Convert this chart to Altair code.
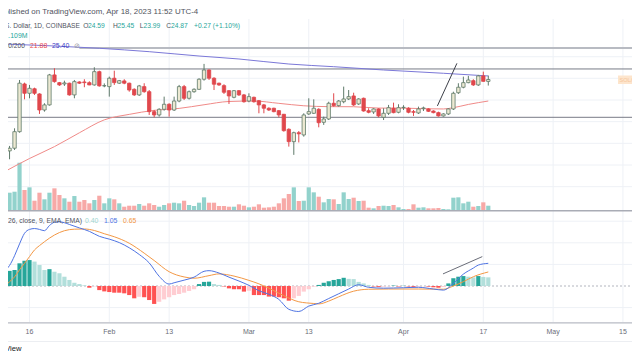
import math
import altair as alt
import pandas as pd

# ------------------------------------------------------------------ data
first_day = "2023-01-11"

opens = [
    16.23, 16.26, 16.52, 18.23, 24.22, 22.91, 23.54, 22.82, 20.74, 21.38,
    25.56, 24.41, 24.22, 24.33, 22.69, 24.51, 24.51, 24.41, 24.08, 26.06,
    23.94, 23.84, 25.06, 24.33, 24.66, 24.33, 23.46, 22.69, 23.84, 23.13,
    20.54, 20.14, 20.83, 21.46, 20.74, 21.88, 23.84, 22.24, 23.13, 23.46,
    24.91, 26.32, 25.06, 24.33, 23.98, 23.27, 22.37, 23.27, 22.69, 21.88,
    22.37, 21.92, 21.38, 20.96, 20.96, 20.66, 20.22, 18.49, 17.18, 18.12,
    17.88, 20.26, 20.34, 20.83, 19.28, 19.66, 21.59, 21.29, 21.79, 22.15,
    22.55, 21.50, 22.24, 20.66, 20.50, 20.87, 19.86, 20.34, 20.96, 20.46,
    21.03, 20.96, 20.54, 20.38, 20.91, 20.87, 20.62, 20.42, 20.02, 20.26,
    20.87, 22.99, 23.75, 24.41, 24.70, 24.08, 25.41, 24.59,
]
highs = [
    16.52, 16.75, 18.60, 24.80, 24.41, 24.08, 23.69, 22.91, 21.59, 25.71,
    26.59, 24.51, 24.70, 24.41, 24.80, 24.61, 24.91, 24.61, 26.75, 26.21,
    24.30, 25.30, 26.21, 24.80, 24.91, 24.41, 23.60, 24.08, 24.32, 23.36,
    20.74, 20.96, 22.46, 21.59, 22.46, 24.08, 24.08, 23.29, 23.60, 25.06,
    27.29, 26.43, 25.21, 24.41, 24.18, 23.36, 23.36, 23.36, 22.82, 22.91,
    22.46, 22.01, 21.50, 21.08, 21.03, 20.74, 20.26, 18.60, 18.23, 18.30,
    20.34, 22.24, 22.10, 20.96, 19.94, 21.79, 22.91, 22.01, 23.84, 23.36,
    22.99, 22.24, 22.33, 20.96, 20.96, 20.96, 20.96, 21.38, 21.67, 21.46,
    21.34, 21.08, 20.74, 21.16, 21.16, 20.96, 20.70, 20.54, 20.34, 20.96,
    23.13, 24.32, 25.30, 25.41, 24.91, 25.56, 26.06, 25.45,
]
lows = [
    16.09, 15.47, 16.35, 18.12, 22.10, 22.24, 22.69, 20.26, 20.54, 21.29,
    24.41, 23.94, 23.94, 22.59, 22.24, 24.22, 23.75, 24.04, 23.98, 23.84,
    23.75, 22.46, 24.08, 24.22, 24.18, 23.13, 22.55, 22.55, 22.99, 20.14,
    19.86, 19.94, 20.66, 19.94, 20.62, 21.72, 22.01, 22.07, 22.99, 23.36,
    24.70, 24.80, 23.36, 23.94, 22.82, 21.50, 22.24, 22.55, 21.67, 21.72,
    21.67, 20.34, 20.34, 20.62, 20.46, 19.86, 18.23, 16.68, 15.88, 17.10,
    17.70, 20.14, 20.26, 18.71, 18.98, 19.54, 21.16, 21.16, 21.59, 22.01,
    21.25, 21.38, 20.54, 20.34, 20.26, 19.86, 19.54, 20.14, 20.34, 20.34,
    20.74, 20.34, 20.02, 20.26, 20.62, 20.50, 20.34, 19.94, 19.94, 20.14,
    20.74, 22.82, 23.60, 24.32, 23.94, 23.94, 24.56, 23.99,
]
closes = [
    16.35, 16.52, 18.23, 24.33, 22.91, 23.60, 22.91, 20.74, 21.38, 25.56,
    24.56, 24.08, 24.37, 22.69, 24.56, 24.33, 24.41, 24.08, 26.06, 23.94,
    23.98, 25.06, 24.41, 24.70, 24.33, 23.36, 22.69, 23.94, 23.13, 20.54,
    20.14, 20.83, 21.46, 20.74, 21.88, 23.84, 22.24, 23.13, 23.46, 24.91,
    26.32, 25.06, 24.18, 24.08, 23.05, 22.55, 23.27, 22.69, 21.79, 22.46,
    21.79, 21.38, 20.96, 20.74, 20.54, 20.14, 18.34, 17.18, 18.12, 18.00,
    20.14, 20.54, 20.96, 19.23, 19.66, 21.59, 21.29, 21.88, 22.15, 22.46,
    21.38, 22.15, 20.62, 20.46, 20.87, 20.02, 20.34, 21.03, 20.42, 21.03,
    21.08, 20.46, 20.46, 20.87, 21.00, 20.58, 20.42, 20.02, 20.26, 20.87,
    22.91, 23.75, 24.41, 24.80, 24.08, 25.41, 24.60, 24.87,
]
volume_m = [
    3.86, 4.00, 4.22, 10.66, 4.60, 5.19, 2.22, 4.00, 2.53, 4.00,
    4.97, 3.49, 2.75, 2.00, 3.26, 2.00, 2.38, 1.64, 2.38, 3.33,
    1.64, 2.75, 2.53, 1.64, 0.89, 1.11, 1.11, 1.49, 1.11, 1.64,
    1.27, 0.89, 1.27, 1.64, 1.78, 1.64, 2.22, 1.27, 1.04, 1.78,
    2.97, 1.78, 1.78, 1.04, 1.04, 0.89, 0.89, 1.42, 1.11, 0.75,
    0.89, 1.42, 0.67, 0.75, 0.89, 1.64, 2.75, 3.71, 5.19, 2.15,
    2.22, 5.19, 4.08, 3.11, 1.86, 2.60, 2.53, 1.49, 4.08, 2.60,
    2.89, 2.15, 2.22, 0.67, 0.53, 1.04, 1.11, 1.04, 1.27, 0.75,
    0.38, 0.38, 1.42, 0.67, 0.75, 0.53, 0.53, 0.60, 0.38, 0.31,
    2.89, 2.97, 1.64, 2.00, 0.89, 1.04, 1.86, 1.109,
]
macd_hist = [
    0.66, 0.70, 0.74, 1.05, 1.17, 1.20, 1.13, 0.97, 0.74, 0.78,
    0.66, 0.59, 0.43, 0.28, 0.15, 0.09, 0.03, -0.08, -0.02, -0.19,
    -0.25, -0.28, -0.31, -0.31, -0.34, -0.42, -0.57, -0.50, -0.52, -0.65,
    -0.83, -0.73, -0.62, -0.52, -0.42, -0.37, -0.31, -0.23, -0.15, 0.09,
    0.19, 0.20, 0.09, 0.05, -0.02, -0.11, -0.15, -0.15, -0.26, -0.22,
    -0.42, -0.42, -0.42, -0.49, -0.49, -0.52, -0.57, -0.68, -0.57, -0.46,
    -0.26, -0.15, -0.03, 0.05, 0.15, 0.22, 0.28, 0.32, 0.38, 0.33,
    0.32, 0.19, 0.12, 0.05, -0.02, -0.04, -0.03, -0.02, 0.02, -0.02,
    0.01, -0.02, -0.04, -0.03, -0.01, -0.03, -0.06, -0.08, -0.05, 0.12,
    0.36, 0.43, 0.46, 0.43, 0.40, 0.46, 0.42, 0.40,
]

sma50_dates = ["2023-01-11", "2023-01-16", "2023-01-21", "2023-01-26", "2023-01-31",
               "2023-02-05", "2023-02-10", "2023-02-15", "2023-02-20", "2023-02-25",
               "2023-03-02", "2023-03-07", "2023-03-12", "2023-03-17", "2023-03-22",
               "2023-03-27", "2023-04-01", "2023-04-06", "2023-04-09", "2023-04-11",
               "2023-04-14", "2023-04-18"]
sma50_vals = [14.37, 15.54, 16.68, 18.11, 19.56, 20.21, 20.70, 20.94, 21.40, 21.82,
              21.88, 21.58, 21.27, 21.16, 21.15, 20.98, 20.97, 20.89, 20.87, 21.03,
              21.44, 21.88]
sma200_dates = ["2023-01-11", "2023-01-30", "2023-02-09", "2023-02-19", "2023-02-27",
                "2023-03-09", "2023-03-18", "2023-03-28", "2023-04-09", "2023-04-18"]
sma200_vals = [30.72, 29.95, 29.35, 28.60, 28.10, 27.27, 26.84, 26.32, 25.81, 25.40]

macd_dates = ["2023-01-11", "2023-01-12", "2023-01-13", "2023-01-14", "2023-01-15",
              "2023-01-16", "2023-01-17", "2023-01-18", "2023-01-19", "2023-01-20",
              "2023-01-21", "2023-01-22", "2023-01-23", "2023-01-24", "2023-01-26",
              "2023-01-28", "2023-01-30", "2023-02-01", "2023-02-03", "2023-02-05",
              "2023-02-07", "2023-02-09", "2023-02-11", "2023-02-13", "2023-02-14",
              "2023-02-16", "2023-02-18", "2023-02-20", "2023-02-21", "2023-02-23",
              "2023-02-25", "2023-02-27", "2023-03-01", "2023-03-03", "2023-03-05",
              "2023-03-07", "2023-03-09", "2023-03-11", "2023-03-13", "2023-03-15",
              "2023-03-17", "2023-03-19", "2023-03-21", "2023-03-23", "2023-03-25",
              "2023-03-28", "2023-04-01", "2023-04-04", "2023-04-07", "2023-04-09",
              "2023-04-11", "2023-04-13", "2023-04-15", "2023-04-16", "2023-04-18"]
macd_vals = [0.70, 0.95, 1.40, 1.95, 2.44, 2.62, 2.66, 2.62, 2.56, 2.80,
             2.95, 2.97, 2.93, 2.85, 2.69, 2.53, 2.30, 2.17, 2.01, 1.77,
             1.46, 1.07, 0.45, 0.09, 0.15, 0.27, 0.41, 0.68, 0.71, 0.60,
             0.41, 0.23, 0.03, -0.22, -0.38, -0.62, -1.08, -1.18, -0.93, -0.80,
             -0.58, -0.36, -0.14, 0.06, -0.06, -0.10, -0.08, -0.06, -0.14, -0.19,
             0.12, 0.55, 0.83, 0.97, 1.05]
signal_dates = ["2023-01-11", "2023-01-12", "2023-01-13", "2023-01-14", "2023-01-15",
                "2023-01-16", "2023-01-17", "2023-01-18", "2023-01-19", "2023-01-21",
                "2023-01-23", "2023-01-25", "2023-01-27", "2023-01-29", "2023-01-31",
                "2023-02-02", "2023-02-05", "2023-02-08", "2023-02-10", "2023-02-13",
                "2023-02-16", "2023-02-18", "2023-02-21", "2023-02-23", "2023-02-26",
                "2023-03-01", "2023-03-03", "2023-03-05", "2023-03-08", "2023-03-11",
                "2023-03-14", "2023-03-15", "2023-03-17", "2023-03-19", "2023-03-22",
                "2023-03-25", "2023-03-29", "2023-04-04", "2023-04-09", "2023-04-11",
                "2023-04-13", "2023-04-15", "2023-04-18"]
signal_vals = [-0.03, 0.20, 0.42, 0.75, 1.05, 1.36, 1.67, 1.87, 2.05, 2.36,
               2.56, 2.63, 2.64, 2.57, 2.42, 2.28, 1.98, 1.52, 1.18, 0.66,
               0.42, 0.36, 0.48, 0.56, 0.46, 0.26, 0.10, -0.10, -0.45, -0.73,
               -0.81, -0.83, -0.70, -0.50, -0.24, -0.15, -0.14, -0.14, -0.15, 0.00,
               0.20, 0.43, 0.65]

ray_levels = [26.48, 19.86]
ray_top_start = ["2023-01-26"]
ray_top_level = [30.0]
trend_price_dates = ["2023-04-07 19:00", "2023-04-11 17:00"]
trend_price_vals = [21.25, 27.38]
trend_macd_dates = ["2023-04-08 22:00", "2023-04-16 19:00"]
trend_macd_vals = [0.56, 1.36]

tick_dates = ["2023-01-16", "2023-02-01", "2023-02-13", "2023-03-01", "2023-03-13",
              "2023-04-01", "2023-04-17", "2023-05-01", "2023-05-15"]
tick_labels = ["16", "Feb", "13", "Mar", "13", "Apr", "17", "May", "15"]
price_grid = [28.48, 25.05, 22.01, 19.35, 17.01, 14.95, 13.14]
macd_grid = [3, 2, 1, -1]

# ------------------------------------------------------------------ helpers
def ms(values):
    return [int(v) for v in (pd.to_datetime(values).astype("int64") // 10**6)]

W, H = 632, 352
DAY = 86400000
ANCHOR = ms(["2023-01-16"])[0]
ANCHOR_PX, PX_PER_DAY = 24.9, 5.067
x_dom = [ANCHOR - ANCHOR_PX / PX_PER_DAY * DAY, ANCHOR + (W - ANCHOR_PX) / PX_PER_DAY * DAY]
XS = alt.Scale(domain=x_dom, range=[0, W])

def X(field="t"):
    return alt.X(f"{field}:T", scale=XS, axis=None)

# price pane, log scale
PA, PK = 619.4, 168.0
PS = alt.Scale(type="log", domain=[10, 40], range=[PA - PK * math.log(10), PA - PK * math.log(40)])
# volume
VB, VPX = 210.7, 4.5
VS = alt.Scale(domain=[0, 10], range=[VB, VB - 10 * VPX])
# macd
MZ, MPX = 286.0, 21.6
MS = alt.Scale(domain=[-1.5, 3.5], range=[MZ + 1.5 * MPX, MZ - 3.5 * MPX])

FONT = "Liberation Sans"
UP_FILL, UP_EDGE, DOWN = "#ece9d2", "#5f7a6a", "#e0474c"
TEAL, TEXT_DARK = "#26a69a", "#50535e"

df = pd.DataFrame({
    "t": ms(pd.date_range(first_day, periods=len(opens), freq="D")),
    "open": opens, "high": highs, "low": lows, "close": closes,
    "vol": volume_m, "hist": macd_hist,
})
up = df["close"] >= df["open"]
df["fill"] = up.map({True: UP_FILL, False: DOWN})
df["edge"] = up.map({True: UP_EDGE, False: DOWN})
df["vcol"] = up.map({True: "#92d2cc", False: "#f7a9a7"})
prev = df["hist"].shift(1).fillna(0)
df["hcol"] = [
    ("#26a69a" if p < h else "#b2dfdb") if h >= 0 else ("#ffcdd2" if p < h else "#ff5252")
    for h, p in zip(df["hist"], prev)
]

def txt(s, x, y, color, size=6.8, align="left", weight="normal"):
    return alt.Chart(pd.DataFrame({"s": [s]})).mark_text(
        align=align, baseline="middle", font=FONT, fontSize=size, color=color, fontWeight=weight
    ).encode(x=alt.value(x), y=alt.value(y), text="s:N")

def hline(y, color, width=1.0, x0=0, x1=W):
    return alt.Chart(pd.DataFrame({"a": [0]})).mark_rule(color=color, strokeWidth=width).encode(
        x=alt.value(x0), x2=alt.value(x1), y=alt.value(y))

layers = []
# grids
layers.append(alt.Chart(pd.DataFrame({"t": ms(tick_dates)})).mark_rule(color="#eef1f6").encode(
    x=X(), y=alt.value(19), y2=alt.value(322)))
layers.append(alt.Chart(pd.DataFrame({"p": price_grid})).mark_rule(color="#eef1f6").encode(
    y=alt.Y("p:Q", scale=PS, axis=None), x=alt.value(0), x2=alt.value(W)))
layers.append(alt.Chart(pd.DataFrame({"m": macd_grid})).mark_rule(color="#eef1f6").encode(
    y=alt.Y("m:Q", scale=MS, axis=None), x=alt.value(0), x2=alt.value(W)))
layers.append(alt.Chart(pd.DataFrame({"m": [0]})).mark_rule(color="#b2b5be", strokeDash=[2, 2]).encode(
    y=alt.Y("m:Q", scale=MS, axis=None), x=alt.value(0), x2=alt.value(W)))

# volume
layers.append(alt.Chart(df).mark_bar(size=4.2).encode(
    x=X(), y=alt.Y("vol:Q", scale=VS, axis=None), color=alt.Color("vcol:N", scale=None)))

# horizontal rays
layers.append(alt.Chart(pd.DataFrame({"p": ray_levels})).mark_rule(color="#787b86", strokeWidth=1).encode(
    y=alt.Y("p:Q", scale=PS, axis=None), x=alt.value(0), x2=alt.value(W)))
layers.append(alt.Chart(pd.DataFrame({"t": ms(ray_top_start), "p": ray_top_level})).mark_rule(
    color="#b8bbc2", strokeWidth=2).encode(x=X(), x2=alt.value(W), y=alt.Y("p:Q", scale=PS, axis=None)))

# moving averages
layers.append(alt.Chart(pd.DataFrame({"t": ms(sma50_dates), "v": sma50_vals})).mark_line(
    color="#f08a88", strokeWidth=1, interpolate="monotone").encode(x=X(), y=alt.Y("v:Q", scale=PS, axis=None)))
layers.append(alt.Chart(pd.DataFrame({"t": ms(sma200_dates), "v": sma200_vals})).mark_line(
    color="#7b78d8", strokeWidth=1, interpolate="monotone").encode(x=X(), y=alt.Y("v:Q", scale=PS, axis=None)))

# candles
layers.append(alt.Chart(df).mark_rule(strokeWidth=1).encode(
    x=X(), y=alt.Y("low:Q", scale=PS, axis=None), y2="high:Q", color=alt.Color("edge:N", scale=None)))
layers.append(alt.Chart(df).mark_bar(size=3.4, strokeWidth=0.8).encode(
    x=X(), y=alt.Y("open:Q", scale=PS, axis=None), y2="close:Q",
    fill=alt.Fill("fill:N", scale=None), stroke=alt.Stroke("edge:N", scale=None)))

# trend line on price
layers.append(alt.Chart(pd.DataFrame({"t": ms(trend_price_dates), "v": trend_price_vals})).mark_line(
    color="#3c3f48", strokeWidth=1).encode(x=X(), y=alt.Y("v:Q", scale=PS, axis=None)))

# MACD pane
layers.append(alt.Chart(df).mark_bar(size=4.2).encode(
    x=X(), y=alt.Y("hist:Q", scale=MS, axis=None), color=alt.Color("hcol:N", scale=None)))
layers.append(alt.Chart(pd.DataFrame({"t": ms(signal_dates), "v": signal_vals})).mark_line(
    color="#f39845", strokeWidth=1, interpolate="monotone").encode(x=X(), y=alt.Y("v:Q", scale=MS, axis=None)))
layers.append(alt.Chart(pd.DataFrame({"t": ms(macd_dates), "v": macd_vals})).mark_line(
    color="#4f74e3", strokeWidth=1, interpolate="monotone").encode(x=X(), y=alt.Y("v:Q", scale=MS, axis=None)))
layers.append(alt.Chart(pd.DataFrame({"t": ms(trend_macd_dates), "v": trend_macd_vals})).mark_line(
    color="#6a6d78", strokeWidth=1).encode(x=X(), y=alt.Y("v:Q", scale=MS, axis=None)))

# separators and axis
layers.append(hline(210.8, "#a9acb5", 1.6))
layers.append(hline(322.8, "#b8bbc4", 1.2))
layers.append(hline(341.5, "#eceef2", 1))
layers.append(alt.Chart(pd.DataFrame({"t": ms(tick_dates), "s": tick_labels})).mark_text(
    font=FONT, fontSize=7, color="#6a6d78", baseline="middle").encode(x=X(), y=alt.value(332), text="s:N"))

# last-price symbol label
layers.append(alt.Chart(pd.DataFrame({"a": [0]})).mark_rect(color="#fde5cd").encode(
    x=alt.value(618), x2=alt.value(W), y=alt.value(75.5), y2=alt.value(84)))
layers.append(txt("SOL/USD", 619.5, 79.8, "#f6c59b", size=5.6))

# legend / header texts
layers.append(txt("Published on TradingView.com, Apr 18, 2023 11:52 UTC-4", -5.5, 12, TEXT_DARK, size=7.9))
layers.append(txt("U.S. Dollar, 1D, COINBASE", -1.5, 26, TEXT_DARK, size=6.6))
for s, x, c in [("O", 83.3, TEXT_DARK), ("24.59", 88, TEAL), ("H", 113, TEXT_DARK), ("25.45", 117.5, TEAL),
                ("L", 139.8, TEXT_DARK), ("23.99", 143.5, TEAL), ("C", 166.3, TEXT_DARK), ("24.87", 171, TEAL),
                ("+0.27 (+1.10%)", 194, TEAL)]:
    layers.append(txt(s, x, 26, c, size=6.7))
layers.append(txt("Vol", -10, 36, TEXT_DARK, size=6.7))
layers.append(txt("1.109M", 4.5, 36, TEAL, size=6.9))
layers.append(txt("MA 50/200", 25, 46, TEXT_DARK, size=6.7, align="right"))
layers.append(txt("21.88", 30, 46, "#e8474c", size=6.9))
layers.append(txt("25.40", 52, 46, "#3f3cc4", size=6.9))
layers.append(txt("\u2298", 74, 46, "#9598a1", size=6.5))
layers.append(txt("MACD (12, 26, close, 9, EMA, EMA)", 82, 220.8, TEXT_DARK, size=6.8, align="right"))
layers.append(txt("0.40", 85, 220.8, "#9fd6d0", size=6.9))
layers.append(txt("1.05", 104, 220.8, "#4f74e3", size=6.9))
layers.append(txt("0.65", 123, 220.8, "#f39845", size=6.9))
layers.append(txt("TradingView", 21.5, 349, "#131722", size=7.6, align="right"))

chart = alt.layer(*layers).resolve_scale(y="independent").properties(
    width=W, height=H,
    autosize=alt.AutoSizeParams(type="none"),
    padding={"left": -8, "top": -8, "right": 0, "bottom": 0},
).configure_view(stroke=None)

chart.save("out.html", embed_options={"renderer": "svg", "actions": False})
